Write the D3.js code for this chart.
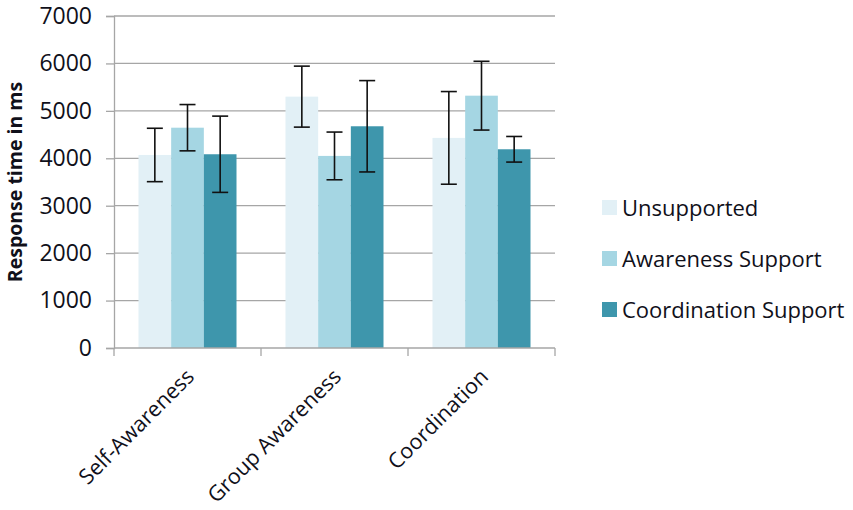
<!DOCTYPE html>
<html>
<head>
<meta charset="utf-8">
<script src="https://cdn.jsdelivr.net/npm/d3@7"></script>
<style>
  html, body { margin: 0; padding: 0; background: #fff; }
  svg { display: block; }
  text { font-family: "Open Sans", "Noto Sans", sans-serif; fill: #10101a; }
</style>
</head>
<body>
<svg id="chart" width="853" height="510"></svg>
<script>
// Task categories on the x axis
const categories = ["Self-Awareness", "Group Awareness", "Coordination"];
// Support conditions (one bar per condition in each category)
const seriesNames = ["Unsupported", "Awareness Support", "Coordination Support"];
// Mean response time (ms) per condition, in category order
const unsupported = [4070, 5300, 4430];
const awarenessSupport = [4645, 4050, 5320];
const coordinationSupport = [4085, 4675, 4190];
// Error amounts (ms), drawn symmetrically around each mean
const unsupportedErr = [563, 643, 977];
const awarenessSupportErr = [488, 503, 725];
const coordinationSupportErr = [804, 963, 270];
// Y axis ticks
const yTicks = [0, 1000, 2000, 3000, 4000, 5000, 6000, 7000];

const seriesColors = ["#e2f0f6", "#a5d6e3", "#3e96ac"];
const seriesValues = [unsupported, awarenessSupport, coordinationSupport];
const seriesErrors = [unsupportedErr, awarenessSupportErr, coordinationSupportErr];

const margin = { left: 114, right: 298, top: 16, bottom: 162 };
const W = 853, H = 510;
const plotW = W - margin.left - margin.right;
const plotH = H - margin.top - margin.bottom;

const svg = d3.select("#chart");
const g = svg.append("g").attr("transform", `translate(${margin.left},${margin.top})`);

const x0 = d3.scaleBand().domain(categories).range([0, plotW]).paddingInner(0).paddingOuter(0);
// Gap of 1.5 bar widths between clusters (0.75 on each side)
const x1 = d3.scaleBand().domain(seriesNames)
  .range([x0.bandwidth() * 0.75 / 4.5, x0.bandwidth() - x0.bandwidth() * 0.75 / 4.5])
  .padding(0);
const y = d3.scaleLinear().domain([0, 7000]).range([plotH, 0]);

const gridColor = "#a6a6a6";

// Horizontal gridlines
g.append("g").selectAll("line").data(yTicks.filter(d => d > 0)).join("line")
  .attr("x1", 0).attr("x2", plotW)
  .attr("y1", d => y(d)).attr("y2", d => y(d))
  .attr("stroke", gridColor).attr("stroke-width", 1.3);

// Y axis
const yAxis = g.append("g")
  .call(d3.axisLeft(y).tickValues(yTicks).tickSize(8).tickPadding(14).tickFormat(d3.format("d")));
yAxis.select(".domain").attr("stroke", gridColor).attr("stroke-width", 1.3);
yAxis.selectAll(".tick line").attr("stroke", gridColor).attr("stroke-width", 1.3);
yAxis.selectAll(".tick text")
  .attr("font-size", 23).attr("font-family", "'Open Sans', sans-serif").attr("fill", "#10101a");

// Bars
const rows = categories.map((c, i) => ({
  cat: c,
  bars: seriesNames.map((s, j) => ({ s, v: seriesValues[j][i], e: seriesErrors[j][i], color: seriesColors[j] }))
}));

const groups = g.append("g").selectAll("g").data(rows).join("g")
  .attr("transform", d => `translate(${x0(d.cat)},0)`);

groups.selectAll("rect").data(d => d.bars).join("rect")
  .attr("x", d => x1(d.s)).attr("width", x1.bandwidth())
  .attr("y", d => y(d.v)).attr("height", d => plotH - y(d.v))
  .attr("fill", d => d.color);

// Error bars
const capHalf = 8;
const eb = groups.selectAll("g.err").data(d => d.bars).join("g").attr("class", "err")
  .attr("stroke", "#111").attr("stroke-width", 1.6);
eb.append("line")
  .attr("x1", d => x1(d.s) + x1.bandwidth() / 2).attr("x2", d => x1(d.s) + x1.bandwidth() / 2)
  .attr("y1", d => y(d.v + d.e)).attr("y2", d => y(d.v - d.e));
eb.append("line")
  .attr("x1", d => x1(d.s) + x1.bandwidth() / 2 - capHalf).attr("x2", d => x1(d.s) + x1.bandwidth() / 2 + capHalf)
  .attr("y1", d => y(d.v + d.e)).attr("y2", d => y(d.v + d.e));
eb.append("line")
  .attr("x1", d => x1(d.s) + x1.bandwidth() / 2 - capHalf).attr("x2", d => x1(d.s) + x1.bandwidth() / 2 + capHalf)
  .attr("y1", d => y(d.v - d.e)).attr("y2", d => y(d.v - d.e));

// X axis with boundary ticks between categories
const xAxisG = g.append("g").attr("transform", `translate(0,${plotH})`);
xAxisG.append("line").attr("x1", 0).attr("x2", plotW).attr("y1", 0).attr("y2", 0)
  .attr("stroke", gridColor).attr("stroke-width", 1.3);
const boundaries = categories.map(c => x0(c)).concat([plotW]);
xAxisG.selectAll("line.tk").data(boundaries).join("line").attr("class", "tk")
  .attr("x1", d => d).attr("x2", d => d).attr("y1", 0).attr("y2", 8)
  .attr("stroke", gridColor).attr("stroke-width", 1.3);
xAxisG.selectAll("text").data(categories).join("text")
  .attr("transform", d => `translate(${x0(d) + x0.bandwidth() / 2 + 8},${30}) rotate(-45)`)
  .attr("text-anchor", "end")
  .attr("font-size", 21.5)
  .text(d => d);

// Y axis title
svg.append("text")
  .attr("transform", `translate(22,${182}) rotate(-90)`)
  .attr("text-anchor", "middle")
  .attr("font-size", 19.5).attr("font-weight", "bold")
  .text("Response time in ms");

// Legend
const legend = svg.append("g").attr("transform", "translate(602,0)");
const legendY = [208, 259, 310];
const li = legend.selectAll("g").data(seriesNames).join("g")
  .attr("transform", (d, i) => `translate(0,${legendY[i]})`);
li.append("rect").attr("x", 0).attr("y", -8).attr("width", 15).attr("height", 15)
  .attr("fill", (d, i) => seriesColors[i]);
li.append("text").attr("x", 20).attr("y", 0).attr("dy", "0.35em")
  .attr("font-size", 22).text(d => d);
</script>
</body>
</html>
